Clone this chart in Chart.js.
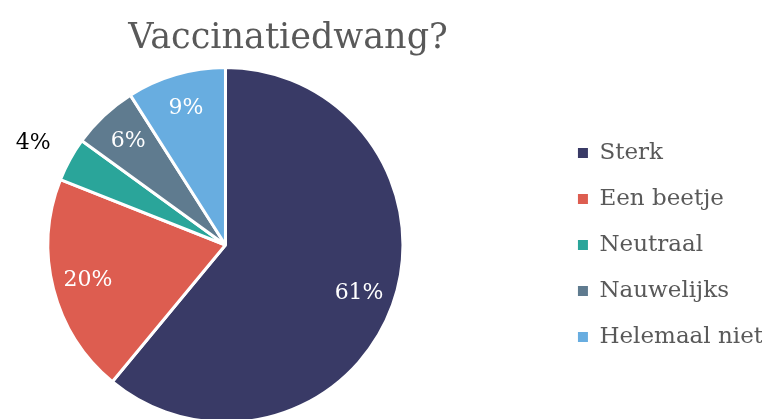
<!DOCTYPE html>
<html>
<head>
<meta charset="utf-8">
<script src="https://cdn.jsdelivr.net/npm/chart.js@4/dist/chart.umd.min.js"></script>
<style>
    html,body{margin:0;padding:0;background:#fff;overflow:hidden;}
    #frame{position:relative;width:762px;height:419px;overflow:hidden;}
    /* canvas is a bit larger than the frame: pie runs off the bottom like the original */
    #wrap{position:absolute;left:-104px;top:0;width:877px;height:424px;}
</style>
</head>
<body>
<div id="frame"><div id="wrap"><canvas id="vacc_chart"></canvas></div></div>
<script>
const title = 'Vaccinatiedwang?',
labels = ['Sterk','Een beetje','Neutraal','Nauwelijks','Helemaal niet'],
values = [61,20,4,6,9],
colors = ['#393A66','#DD5D50','#2AA59A','#5F7B8F','#68ADE0'];

const FONT = "'DejaVu Serif', serif",
SHIFT_X = 104; // same as the css left offset

// title sits over the pie+legend block, not the canvas centre
const titlePlugin = {
    id: 'sideTitle',
    afterDraw(chart){
        const ctx = chart.ctx;
        ctx.save();
        ctx.font = `35px ${FONT}`;
        ctx.fillStyle = '#595959';
        ctx.textAlign = 'center';
        ctx.textBaseline = 'alphabetic';
        ctx.fillText(title, 288+SHIFT_X, 48);
        ctx.restore();
    }
};

// percentage labels, small slices go outside in black
const pctLabels = {
    id: 'pctLabels',
    afterDatasetsDraw(chart){
        const ctx = chart.ctx,
        meta = chart.getDatasetMeta(0),
        total = values.reduce((a,b)=>a+b,0);
        ctx.save();
        ctx.font = `22px ${FONT}`;
        ctx.textAlign = 'center';
        ctx.textBaseline = 'middle';
        meta.data.forEach((arc,i)=>{
            const p = arc.getProps(['x','y','startAngle','endAngle','outerRadius'],true),
            mid = (p.startAngle+p.endAngle)/2,
            pct = Math.round(values[i]/total*100),
            outside = pct<5,
            r = outside ? p.outerRadius+42 : p.outerRadius*0.8;
            ctx.fillStyle = outside ? '#000000' : '#ffffff';
            ctx.fillText(pct+'%', p.x+Math.cos(mid)*r, p.y+Math.sin(mid)*r+(outside?4:0));
        });
        ctx.restore();
    }
};

new Chart(document.getElementById('vacc_chart'), {
    type: 'pie',
    data: {
        labels: labels,
        datasets: [{
            data: values,
            backgroundColor: colors,
            borderColor: '#ffffff',
            borderWidth: 3
        }]
    },
    options: {
        responsive: true,
        maintainAspectRatio: false,
        animation: false,
        layout: {
            padding: {top: 66, bottom: 0, left: 0, right: 0}
        },
        plugins: {
            title: {display: false},
            tooltip: {enabled: false},
            legend: {
                position: 'right',
                align: 'center',
                labels: {
                    boxWidth: 10,
                    boxHeight: 10,
                    padding: 23,
                    color: '#595959',
                    font: {family: FONT, size: 23},
                    generateLabels(chart){
                        const items = Chart.overrides.pie.plugins.legend.labels.generateLabels(chart);
                        items.forEach(it=>{ it.lineWidth = 0; });
                        return items;
                    }
                }
            }
        }
    },
    plugins: [titlePlugin, pctLabels]
});
</script>
</body>
</html>
